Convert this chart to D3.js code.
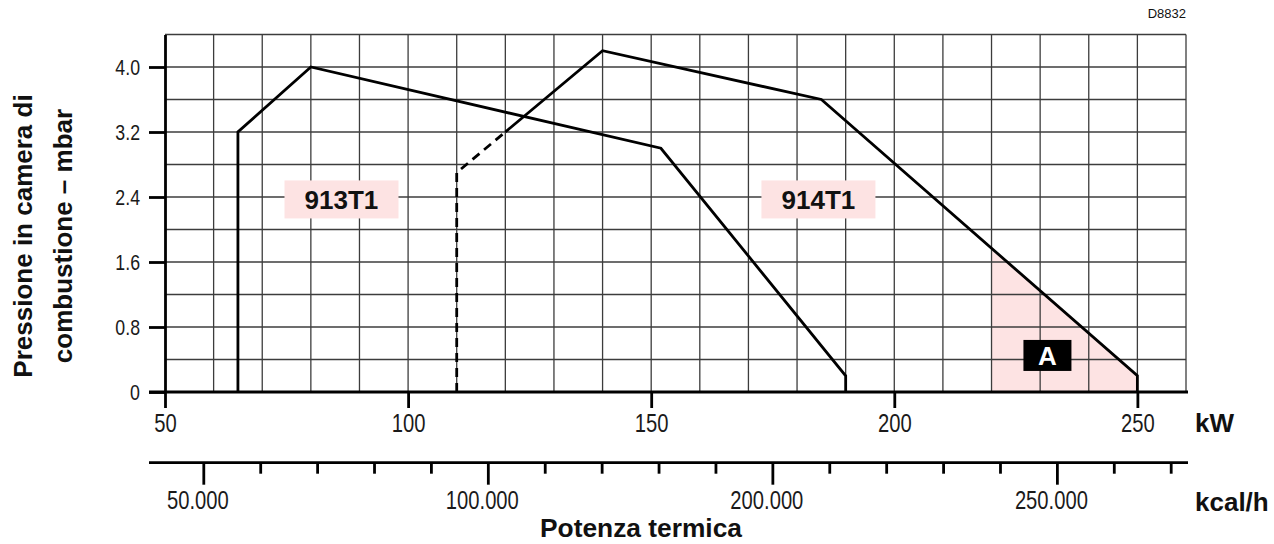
<!DOCTYPE html>
<html>
<head>
<meta charset="utf-8">
<script src="https://cdn.jsdelivr.net/npm/d3@7"></script>
<style>
  html, body { margin: 0; padding: 0; background: #fff; }
  svg { display: block; }
  .tick-num { font-family: "Liberation Sans", Arial, sans-serif; fill: #1a1a1a; }
  .bold { font-family: "Liberation Sans", Arial, sans-serif; font-weight: bold; fill: #111; }
</style>
</head>
<body>
<svg id="chart" width="1274" height="544"></svg>
<script>
// ---------- data ----------
const kW913 = [65, 65, 80, 152, 190, 190];
const mbar913 = [0, 3.2, 4.0, 3.0, 0.2, 0];

const kW914Dashed = [110, 110, 120];
const mbar914Dashed = [0, 2.7, 3.2];
const kW914 = [120, 140, 185, 250, 250];
const mbar914 = [3.2, 4.2, 3.6, 0.2, 0];

const kWAreaA = [220, 220, 250, 250];
const mbarAreaA = [0, 1.75, 0.2, 0];

const yTicks = [0, 0.8, 1.6, 2.4, 3.2, 4.0];
const yTickLabels = ["0", "0.8", "1.6", "2.4", "3.2", "4.0"];
const kWTicks = [50, 100, 150, 200, 250];
const kWTickLabels = ["50", "100", "150", "200", "250"];
const kcalMajorTicks = [50000, 100000, 150000, 200000];
const kcalMajorLabels = ["50.000", "100.000", "200.000", "250.000"];
const kcalMinorStep = 10000;

const modelNames = ["913T1", "914T1"];
const modelLabelKW = [86.3, 184.4];
const modelLabelMbar = [2.37, 2.37];
const areaLabel = "A";
const areaLabelKW = 231.5;
const areaLabelMbar = 0.45;

// ---------- helpers ----------
// narrow (condensed) look for the numeric labels
function narrowLen(str, size) {
  let w = 0;
  for (const c of str) w += (c === "." ? 0.22 : 0.45) * size;
  return w;
}
function narrowText(sel, size) {
  sel.style("font-size", size + "px")
    .attr("textLength", function () { return narrowLen(this.textContent, size); })
    .attr("lengthAdjust", "spacingAndGlyphs");
}

// ---------- scales ----------
const svg = d3.select("#chart");
const x = d3.scaleLinear().domain([50, 260]).range([165, 1186]);
const y = d3.scaleLinear().domain([0, 4.4]).range([392, 34.5]);
const k = d3.scaleLinear().domain([50000, 220000]).range([203.3, 1170.7]);

const pts = (xs, ys) => xs.map((v, i) => [v, ys[i]]);
const line = d3.line().x(d => x(d[0])).y(d => y(d[1]));

// pink area A
svg.append("path")
  .attr("d", line(pts(kWAreaA, mbarAreaA)) + "Z")
  .attr("fill", "#fde3e3");

// grid
const vGrid = d3.range(6, 27).map(i => i * 10);
const hGrid = d3.range(1, 12).map(i => +(i * 0.4).toFixed(1));
svg.append("g").selectAll("line").data(vGrid).join("line")
  .attr("x1", d => x(d)).attr("x2", d => x(d))
  .attr("y1", y(0)).attr("y2", y(4.4))
  .attr("stroke", "#3c3c3c").attr("stroke-width", 1.3);
svg.append("g").selectAll("line").data(hGrid).join("line")
  .attr("x1", x(50)).attr("x2", x(260))
  .attr("y1", d => y(d)).attr("y2", d => y(d))
  .attr("stroke", "#3c3c3c").attr("stroke-width", 1.3);

// data lines
const lineG = svg.append("g").attr("fill", "none").attr("stroke", "#000")
  .attr("stroke-width", 2.8).attr("stroke-linejoin", "miter");
lineG.append("path").attr("d", line(pts(kW913, mbar913)));
lineG.append("path").attr("d", line(pts(kW914, mbar914)));
lineG.append("path").attr("d", line(pts(kW914Dashed, mbar914Dashed)))
  .attr("stroke-dasharray", "9,6");

// y axis
const yAxis = d3.axisLeft(y).tickValues(yTicks)
  .tickFormat((d, i) => yTickLabels[i]).tickSize(16).tickSizeOuter(0).tickPadding(9);
const yg = svg.append("g").attr("transform", `translate(${x(50)},0)`).call(yAxis);
yg.select(".domain").attr("stroke", "#000").attr("stroke-width", 2.8);
yg.selectAll(".tick line").attr("stroke", "#000").attr("stroke-width", 2.8);
yg.selectAll(".tick text").attr("class", "tick-num").attr("fill", "#1a1a1a").call(narrowText, 22);

// kW axis
const xAxis = d3.axisBottom(x).tickValues(kWTicks)
  .tickFormat((d, i) => kWTickLabels[i]).tickSize(16).tickSizeOuter(0).tickPadding(6);
const xg = svg.append("g").attr("transform", `translate(0,${y(0)})`).call(xAxis);
xg.select(".domain").remove();
xg.append("line").attr("x1", x(50) - 16).attr("x2", x(260) + 2).attr("y1", 0).attr("y2", 0)
  .attr("stroke", "#000").attr("stroke-width", 2.8);
xg.selectAll(".tick line").attr("stroke", "#000").attr("stroke-width", 2.8);
xg.selectAll(".tick text").attr("class", "tick-num").attr("fill", "#1a1a1a").call(narrowText, 25);

// kcal/h axis
const kcalTicks = d3.range(kcalMajorTicks[0], 220001, kcalMinorStep);
const kAxis = d3.axisBottom(k).tickValues(kcalTicks)
  .tickFormat(d => { const i = kcalMajorTicks.indexOf(d); return i >= 0 ? kcalMajorLabels[i] : ""; })
  .tickSize(11).tickSizeOuter(0);
const kg = svg.append("g").attr("transform", "translate(0,462.7)").call(kAxis);
kg.select(".domain").remove();
kg.append("line").attr("x1", x(50) - 16).attr("x2", x(260) + 2).attr("y1", 0).attr("y2", 0)
  .attr("stroke", "#000").attr("stroke-width", 2.8);
kg.selectAll(".tick line").attr("stroke", "#000").attr("stroke-width", 2.8)
  .attr("y2", d => kcalMajorTicks.includes(d) ? 22 : 11);
kg.selectAll(".tick text").filter(function () { return this.textContent === ""; }).remove();
kg.selectAll(".tick text").attr("class", "tick-num").attr("fill", "#1a1a1a")
  .attr("y", 29).attr("dy", "0.71em").attr("dx", -6).call(narrowText, 25);

// model labels
modelNames.forEach((name, i) => {
  const cx = x(modelLabelKW[i]), cy = y(modelLabelMbar[i]);
  svg.append("rect").attr("x", cx - 57).attr("y", cy - 19).attr("width", 114).attr("height", 38)
    .attr("fill", "#fde3e3");
  svg.append("text").attr("class", "bold").attr("x", cx).attr("y", cy + 10)
    .attr("text-anchor", "middle").style("font-size", "26px").text(name);
});

// area A label
{
  const cx = x(areaLabelKW), cy = y(areaLabelMbar);
  svg.append("rect").attr("x", cx - 24).attr("y", cy - 15.5).attr("width", 48).attr("height", 31)
    .attr("fill", "#000");
  svg.append("text").attr("class", "bold").attr("x", cx).attr("y", cy + 9.5)
    .attr("text-anchor", "middle").style("font-size", "26px").style("fill", "#fff").text(areaLabel);
}

// axis titles
svg.append("text").attr("class", "bold").attr("x", 1195).attr("y", 432).style("font-size", "26px").text("kW");
svg.append("text").attr("class", "bold").attr("x", 1195).attr("y", 511).style("font-size", "26px").text("kcal/h");
svg.append("text").attr("class", "bold").attr("x", 641).attr("y", 537).attr("text-anchor", "middle")
  .style("font-size", "25px").attr("textLength", 202).attr("lengthAdjust", "spacingAndGlyphs").text("Potenza termica");
svg.append("text").attr("class", "bold").attr("transform", "translate(31.5,236) rotate(-90)")
  .attr("text-anchor", "middle").style("font-size", "26px").text("Pressione in camera di");
svg.append("text").attr("class", "bold").attr("transform", "translate(71.5,236) rotate(-90)")
  .attr("text-anchor", "middle").style("font-size", "26px").text("combustione – mbar");

// code
svg.append("text").attr("x", 1186).attr("y", 18).attr("text-anchor", "end")
  .style("font-family", "Liberation Sans, Arial, sans-serif").style("font-size", "13px").attr("fill", "#111").text("D8832");
</script>
</body>
</html>
